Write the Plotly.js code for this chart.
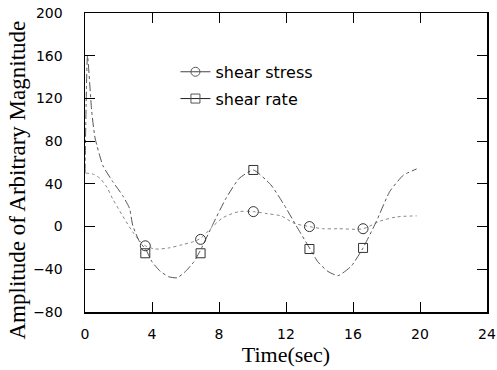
<!DOCTYPE html>
<html><head><meta charset="utf-8">
<script src="https://cdn.plot.ly/plotly-3.0.1.min.js"></script>
<style>html,body{margin:0;padding:0;background:#fff}#c{width:497px;height:370px}</style>
</head><body><div id="c"></div>
<script>
// shear stress curve
const stressT = [0.05,0.5,0.9,1.3,1.65,2.25,2.85,3.3,3.6,4.2,5.0,5.8,6.5,6.9,7.5,8.2,9.2,10.05,10.9,11.7,12.5,13.4,14.2,15.1,16.6,17.6,18.6,19.8];
const stressY = [50,49,45,37,26,10,-5,-14,-18,-21,-20,-17,-14,-11,-2,8,14,14,12,10,3,0,-2,-2,-2,5,9,10];
// shear rate curve
const rateT = [0.0,0.15,0.4,0.6,1.07,1.66,2.25,2.66,2.85,3.25,3.65,4.0,4.5,5.0,5.5,6.0,6.5,6.9,7.6,8.4,9.2,10.05,11.1,11.9,12.6,13.4,13.9,14.5,15.1,15.9,16.6,17.4,18.2,19.0,19.8];
const rateY = [50,160,108,83,57,42,29,17,1,-14,-22,-33,-42,-47,-48,-42,-33,-22,1,26,45,53,39,20,1,-20,-33,-42,-46,-37,-20,5,33,48,54];
// marker positions
const markT = [3.6,6.9,10.05,13.4,16.6];
const stressMarkY = [-18,-12,14,0,-2];
const rateMarkY = [-25,-25,53,-21,-20];
const xTicks = [0,4,8,12,16,20,24];
const yTicks = [-80,-40,0,40,80,120,160,200];
const names = ['shear stress','shear rate'];
const yTitle = 'Amplitude of Arbitrary Magnitude';
const xTitle = 'Time(sec)';

const data = [
  {x:stressT,y:stressY,mode:'lines',line:{color:'#888',width:1,dash:'dot',shape:'spline',smoothing:0.8},showlegend:false,hoverinfo:'skip'},
  {x:rateT,y:rateY,mode:'lines',line:{color:'#555',width:1,dash:'dashdot',shape:'spline',smoothing:0.5},showlegend:false,hoverinfo:'skip'},
  {x:markT,y:stressMarkY,mode:'markers',marker:{symbol:'circle-open',size:10,color:'#333',line:{width:1}},showlegend:false},
  {x:markT,y:rateMarkY,mode:'markers',marker:{symbol:'square-open',size:9,color:'#333',line:{width:1}},showlegend:false},
  {x:[null],y:[null],name:names[0],mode:'lines+markers',line:{color:'#444',width:1},marker:{symbol:'circle-open',size:9,color:'#555',line:{width:1}},legendgroup:'a'},
  {x:[null],y:[null],name:names[1],mode:'lines+markers',line:{color:'#222',width:1},marker:{symbol:'square-open',size:9,color:'#555',line:{width:1}},legendgroup:'b'}
];
const tickFont = {family:'DejaVu Sans',size:14,color:'#000'};
const layout = {
  width:497,height:370,
  margin:{l:85,r:10,t:13,b:58},
  paper_bgcolor:'#fff',plot_bgcolor:'#fff',
  showlegend:true,
  legend:{x:0.225,y:0.86,xanchor:'left',yanchor:'top',bgcolor:'rgba(0,0,0,0)',font:{family:'DejaVu Sans',size:16,color:'#000'},itemwidth:30,tracegroupgap:3},
  xaxis:{range:[0,24],tickvals:xTicks,ticks:'inside',ticklen:10,tickwidth:1,tickcolor:'#000',mirror:'ticks',showline:true,linecolor:'#000',linewidth:1.5,showgrid:false,zeroline:false,tickfont:tickFont,ticklabelstandoff:9,
    title:{text:xTitle,font:{family:'Liberation Serif',size:22,color:'#000'},standoff:3}},
  yaxis:{range:[-80,200],tickvals:yTicks,ticks:'inside',ticklen:10,tickwidth:1,tickcolor:'#000',mirror:'ticks',showline:true,linecolor:'#000',linewidth:1.5,showgrid:false,zeroline:false,tickfont:tickFont,ticklabelstandoff:18},
  annotations:[{text:yTitle,xref:'paper',yref:'paper',x:-0.169,y:0.44,xanchor:'center',yanchor:'middle',textangle:-90,showarrow:false,font:{family:'Liberation Serif',size:23,color:'#000'}}]
};
Plotly.newPlot('c',data,layout,{displayModeBar:false,staticPlot:true});
</script></body></html>
